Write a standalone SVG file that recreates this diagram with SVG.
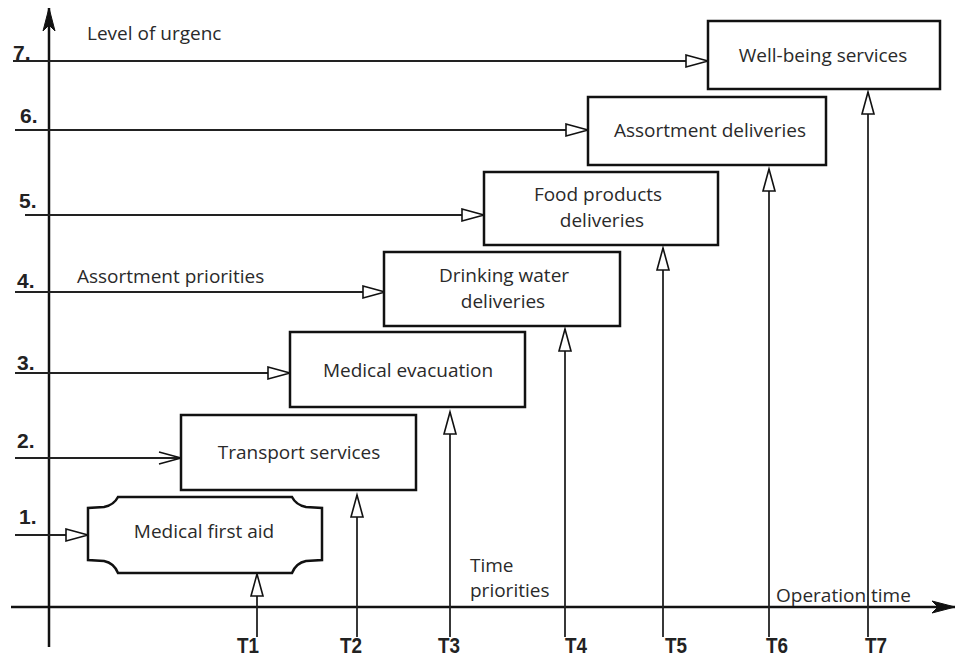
<svg xmlns="http://www.w3.org/2000/svg" width="958" height="659" viewBox="0 0 958 659">
<defs>
<marker id="oa" markerUnits="userSpaceOnUse" markerWidth="26" markerHeight="16" refX="23" refY="7" orient="auto">
<path d="M1,1 L23,7 L1,13 Z" fill="#fff" stroke="#111" stroke-width="1.6"/>
</marker>
<marker id="ch" markerUnits="userSpaceOnUse" markerWidth="26" markerHeight="16" refX="23" refY="7" orient="auto">
<path d="M1,1 L23,7 L1,13" fill="none" stroke="#111" stroke-width="1.6"/>
</marker>
<marker id="ax" markerUnits="userSpaceOnUse" markerWidth="26" markerHeight="16" refX="24" refY="7" orient="auto">
<path d="M1,1 L24,7 L1,13 L7,7 Z" fill="#111" stroke="#111" stroke-width="1"/>
</marker>
<style>
.ax{stroke:#111;stroke-width:2.5;fill:none}
.lv{stroke:#222;stroke-width:1.8;fill:none}
.bx{fill:#fff;stroke:#111;stroke-width:2.5}
.t{font-family:"Open Sans","Liberation Sans",sans-serif;font-size:19px;fill:#2a2a2a;text-anchor:middle}
.l{font-family:"Open Sans","Liberation Sans",sans-serif;font-size:19px;fill:#2a2a2a}
.n{font-family:"Liberation Sans",sans-serif;font-size:21px;font-weight:bold;fill:#222}
.tt{font-family:"Liberation Sans",sans-serif;font-size:22px;font-weight:bold;fill:#222}
</style>
</defs>
<g id="axes">
<line class="ax" x1="49" y1="647" x2="49" y2="8" marker-end="url(#ax)"/>
<line class="ax" x1="11" y1="607" x2="955" y2="607" marker-end="url(#ax)"/>
<text class="l" x="87" y="40">Level of urgenc</text>
<text class="l" x="77" y="283">Assortment priorities</text>
<text class="l" x="470" y="572">Time</text>
<text class="l" x="470" y="597">priorities</text>
<text class="l" x="776" y="602">Operation time</text>
<text class="n" x="13" y="60">7.</text>
<text class="n" x="20" y="123">6.</text>
<text class="n" x="19" y="208">5.</text>
<text class="n" x="17" y="288">4.</text>
<text class="n" x="17" y="370">3.</text>
<text class="n" x="17" y="448">2.</text>
<text class="n" x="19" y="524">1.</text>
<text class="tt" x="237" y="653" textLength="22" lengthAdjust="spacingAndGlyphs">T1</text>
<text class="tt" x="340" y="653" textLength="22" lengthAdjust="spacingAndGlyphs">T2</text>
<text class="tt" x="438" y="653" textLength="22" lengthAdjust="spacingAndGlyphs">T3</text>
<text class="tt" x="565" y="653" textLength="22" lengthAdjust="spacingAndGlyphs">T4</text>
<text class="tt" x="665" y="653" textLength="22" lengthAdjust="spacingAndGlyphs">T5</text>
<text class="tt" x="766" y="653" textLength="22" lengthAdjust="spacingAndGlyphs">T6</text>
<text class="tt" x="865" y="653" textLength="22" lengthAdjust="spacingAndGlyphs">T7</text>
</g>
<g id="connectors">
<line class="lv" x1="13" y1="61" x2="708" y2="61" marker-end="url(#oa)"/>
<line class="lv" x1="15" y1="130" x2="588" y2="130" marker-end="url(#oa)"/>
<line class="lv" x1="25" y1="215" x2="484" y2="215" marker-end="url(#oa)"/>
<line class="lv" x1="15" y1="292" x2="385" y2="292" marker-end="url(#oa)"/>
<line class="lv" x1="15" y1="373" x2="290" y2="373" marker-end="url(#oa)"/>
<line class="lv" x1="15" y1="458" x2="181" y2="458" marker-end="url(#ch)"/>
<line class="lv" x1="15" y1="535" x2="88" y2="535" marker-end="url(#oa)"/>
<line class="lv" x1="257" y1="637" x2="257" y2="574" marker-end="url(#oa)"/>
<line class="lv" x1="357" y1="637" x2="357" y2="495" marker-end="url(#oa)"/>
<line class="lv" x1="450" y1="637" x2="450" y2="412" marker-end="url(#oa)"/>
<line class="lv" x1="565" y1="637" x2="565" y2="329" marker-end="url(#oa)"/>
<line class="lv" x1="663" y1="637" x2="663" y2="248" marker-end="url(#oa)"/>
<line class="lv" x1="769" y1="637" x2="769" y2="169" marker-end="url(#oa)"/>
<line class="lv" x1="868" y1="637" x2="868" y2="92" marker-end="url(#oa)"/>
</g>
<g id="n7"><rect class="bx" x="708" y="21" width="232" height="68"/><text class="t" x="823" y="62">Well-being services</text></g>
<g id="n6"><rect class="bx" x="588" y="97" width="238" height="68"/><text class="t" x="710" y="137">Assortment deliveries</text></g>
<g id="n5"><rect class="bx" x="484" y="172" width="234" height="73"/><text class="t" x="598" y="201">Food products</text><text class="t" x="602" y="227">deliveries</text></g>
<g id="n4"><rect class="bx" x="384" y="252" width="236" height="74"/><text class="t" x="504" y="282">Drinking water</text><text class="t" x="503" y="308">deliveries</text></g>
<g id="n3"><rect class="bx" x="290" y="332" width="235" height="75"/><text class="t" x="408" y="377">Medical evacuation</text></g>
<g id="n2"><rect class="bx" x="181" y="415" width="235" height="75"/><text class="t" x="299" y="459">Transport services</text></g>
<g id="n1"><path class="bx" d="M118,497 L292,497 Q296,505 306,507 L322,508 L322,560 L306,561 Q296,563 292,573 L118,573 Q114,563 104,561 L88,560 L88,508 L104,507 Q114,505 118,497 Z"/><text class="t" x="204" y="538">Medical first aid</text></g>
</svg>
